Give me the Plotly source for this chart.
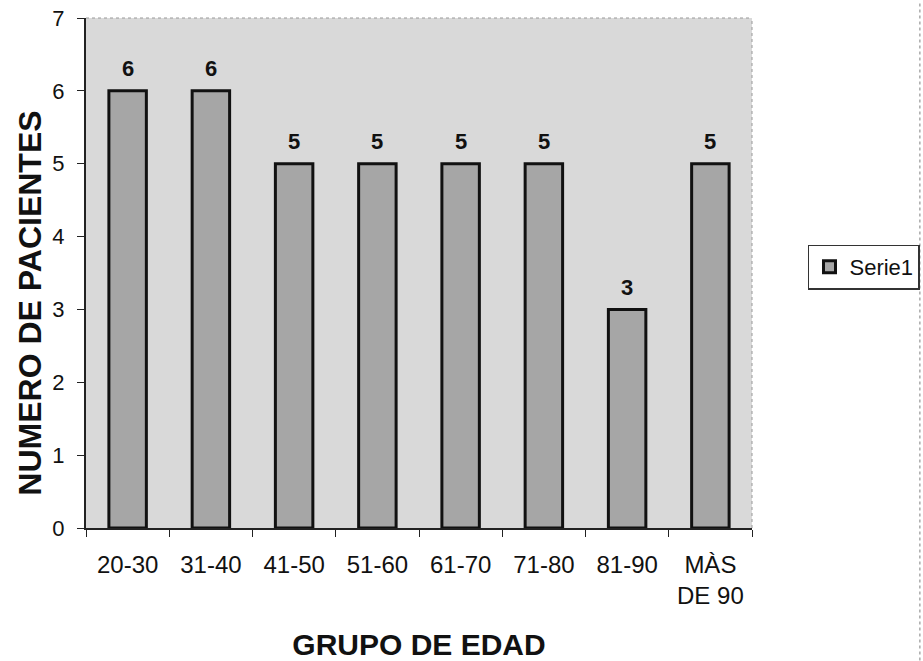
import plotly.graph_objects as go

categories = ["20-30", "31-40", "41-50", "51-60", "61-70", "71-80", "81-90", "MÀS<br>DE 90"]
values = [6, 6, 5, 5, 5, 5, 3, 5]
series_name = "Serie1"

FONT = "Liberation Sans, Arial"

fig = go.Figure()
fig.add_trace(go.Bar(
    x=categories, y=values, name=series_name,
    marker=dict(color="#a6a6a6", line=dict(color="#111111", width=3)),
    showlegend=True,
))

for c, v in zip(categories, values):
    fig.add_annotation(
        x=c, y=v, text=f"<b>{v}</b>", showarrow=False,
        yanchor="middle", yshift=22,
        font=dict(family=FONT, size=22, color="#111111"),
    )

fig.add_annotation(
    xref="paper", yref="paper", x=-0.084, y=0.44,
    text="<b>NUMERO DE PACIENTES</b>", textangle=-90, showarrow=False,
    xanchor="center", yanchor="middle",
    font=dict(family=FONT, size=32, color="#111111"),
)

fig.update_layout(
    width=923, height=661,
    margin=dict(l=86, r=171, t=18, b=133),
    paper_bgcolor="white", plot_bgcolor="#d9d9d9",
    bargap=0.55,
    font=dict(family=FONT, size=22, color="#111111"),
    xaxis=dict(
        title=dict(text="<b>GRUPO DE EDAD</b>", font=dict(size=30), standoff=28),
        showline=True, linecolor="#222222", linewidth=2,
        ticks="outside", ticklen=7, tickcolor="#222222", tickson="boundaries",
        showgrid=False, tickfont=dict(size=24), ticklabelstandoff=14,
        automargin=False,
    ),
    yaxis=dict(
        range=[0, 7], dtick=1,
        showline=True, linecolor="#222222", linewidth=2,
        ticks="outside", ticklen=7, tickcolor="#222222",
        showgrid=False, zeroline=False, tickfont=dict(size=22), ticklabelstandoff=8,
        automargin=False,
    ),
    legend=dict(
        xref="container", yref="container",
        x=0.8754, y=0.596, xanchor="left", yanchor="middle",
        bordercolor="#333333", borderwidth=1.5, bgcolor="white",
        font=dict(size=22), itemwidth=30,
    ),
    shapes=[
        dict(type="line", xref="paper", yref="paper", x0=0, x1=1, y0=1, y1=1,
             line=dict(color="#999999", width=1, dash="dot")),
        dict(type="line", xref="paper", yref="paper", x0=1, x1=1, y0=0, y1=1,
             line=dict(color="#999999", width=1, dash="dot")),
        dict(type="line", xref="paper", yref="paper", x0=1.252, x1=1.252, y0=-0.26, y1=1.03,
             line=dict(color="#aaaaaa", width=1.5, dash="dot")),
    ],
)

fig.write_html("out.html")
